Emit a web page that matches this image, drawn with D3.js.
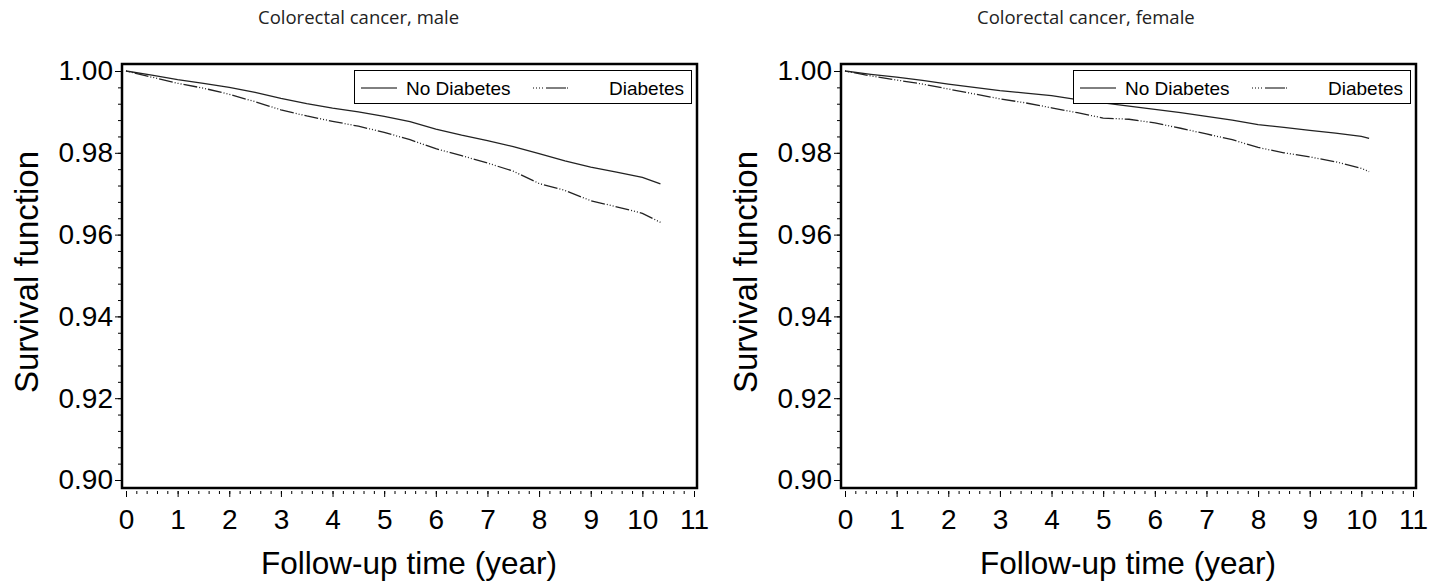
<!DOCTYPE html>
<html lang="en">
<head>
    <meta charset="utf-8">
    <title>Colorectal cancer survival</title>
    <script src="https://d3js.org/d3.v7.min.js" charset="utf-8"></script>
    <style type="text/css">
        body { margin: 0; background: #fff; }
        .title { font-family: 'Open Sans', sans-serif; font-size: 18.5px; fill: #222; }
        .tick text { font-family: 'Liberation Sans', Arial, sans-serif; font-size: 28px; fill: #000; }
        .axislabel { font-family: 'Liberation Sans', Arial, sans-serif; font-size: 31.5px; fill: #000; }
        .ylabel { font-size: 33px; }
        .legend text { font-family: 'Liberation Sans', Arial, sans-serif; font-size: 19px; fill: #000; }
    </style>
</head>
<body>
    <script type="text/javascript">

        // follow-up time in years
        var timesMale = [0, 0.5, 1, 1.5, 2, 2.5, 3, 3.5, 4, 4.5, 5, 5.5, 6, 6.5, 7, 7.5, 8, 8.5, 9, 9.5, 10, 10.35];
        var maleNoDiabetes = [1.0, 0.9990, 0.9979, 0.9970, 0.9960, 0.9948, 0.9933, 0.9920, 0.9909, 0.9900, 0.9889, 0.9876,
            0.9858, 0.9843, 0.9830, 0.9815, 0.9798, 0.9780, 0.9765, 0.9753, 0.9740, 0.9724];
        var maleDiabetes = [1.0, 0.9985, 0.9970, 0.9958, 0.9943, 0.9925, 0.9905, 0.9890, 0.9877, 0.9865, 0.9850, 0.9832,
            0.9810, 0.9793, 0.9775, 0.9755, 0.9725, 0.9708, 0.9683, 0.9668, 0.9652, 0.9630];

        var timesFemale = [0, 0.5, 1, 1.5, 2, 2.5, 3, 3.5, 4, 4.5, 5, 5.5, 6, 6.5, 7, 7.5, 8, 8.5, 9, 9.5, 10, 10.15];
        var femaleNoDiabetes = [1.0, 0.9992, 0.9985, 0.9977, 0.9968, 0.9960, 0.9952, 0.9946, 0.9940, 0.9930, 0.9922, 0.9914,
            0.9906, 0.9898, 0.9889, 0.9880, 0.9869, 0.9862, 0.9855, 0.9848, 0.9840, 0.9835];
        var femaleDiabetes = [1.0, 0.9988, 0.9978, 0.9968, 0.9956, 0.9944, 0.9932, 0.9922, 0.9910, 0.9898, 0.9885, 0.9882,
            0.9873, 0.9860, 0.9846, 0.9832, 0.9813, 0.9800, 0.9790, 0.9778, 0.9762, 0.9754];

        var xTicks = d3.range(0, 12);
        var yTicks = [0.90, 0.92, 0.94, 0.96, 0.98, 1.00];
        var legendLabels = ["No Diabetes", "Diabetes"];

        var width = 1441, height = 588;
        var svg = d3.select("body").append("svg")
            .attr("width", width)
            .attr("height", height);

        function drawPanel(offset, title, times, noDia, dia) {
            var g = svg.append("g")
                .attr("transform", "translate(" + offset + ",0)");

            var x = d3.scaleLinear().domain([0, 11]).range([126, 694]);
            var y = d3.scaleLinear().domain([0.90, 1.00]).range([480, 71]);

            g.append("text")
                .attr("class", "title")
                .attr("x", 258)
                .attr("y", 24)
                .text(title);

            // minor ticks first, majors drawn over them
            g.append("g")
                .attr("transform", "translate(0,491)")
                .call(d3.axisBottom(x).tickValues(d3.range(0, 11.01, 0.2)).tickSize(3).tickFormat(""))
                .call(function (a) { a.select(".domain").remove(); });
            g.append("g")
                .attr("transform", "translate(0,491)")
                .call(d3.axisBottom(x).tickValues(xTicks).tickSize(6).tickPadding(12).tickFormat(d3.format("d")))
                .call(function (a) { a.select(".domain").remove(); });

            g.append("g")
                .attr("transform", "translate(121,0)")
                .call(d3.axisLeft(y).tickValues(d3.range(0.90, 1.0001, 0.004)).tickSize(3).tickFormat(""))
                .call(function (a) { a.select(".domain").remove(); });
            g.append("g")
                .attr("transform", "translate(121,0)")
                .call(d3.axisLeft(y).tickValues(yTicks).tickSize(6).tickPadding(2).tickFormat(d3.format(".2f")))
                .call(function (a) { a.select(".domain").remove(); });

            var line = d3.line()
                .x(function (d) { return x(d[0]); })
                .y(function (d) { return y(d[1]); });

            g.append("path")
                .datum(times.map(function (t, i) { return [t, noDia[i]]; }))
                .attr("d", line)
                .attr("fill", "none")
                .attr("stroke", "#222")
                .attr("stroke-width", 1.3);

            g.append("path")
                .datum(times.map(function (t, i) { return [t, dia[i]]; }))
                .attr("d", line)
                .attr("fill", "none")
                .attr("stroke", "#222")
                .attr("stroke-width", 1.3)
                .attr("stroke-dasharray", "1,2,1,2,1,2,14,2");

            // frame
            g.append("rect")
                .attr("x", 122)
                .attr("y", 64)
                .attr("width", 575)
                .attr("height", 424)
                .attr("fill", "none")
                .attr("stroke", "#000")
                .attr("stroke-width", 2.5);

            // legend
            var lg = g.append("g").attr("class", "legend");
            lg.append("rect")
                .attr("x", 354.5).attr("y", 70.5)
                .attr("width", 337).attr("height", 33)
                .attr("fill", "#fff")
                .attr("stroke", "#000")
                .attr("stroke-width", 1);
            lg.append("line")
                .attr("x1", 361).attr("x2", 397).attr("y1", 88).attr("y2", 88)
                .attr("stroke", "#000");
            lg.append("text")
                .attr("x", 406).attr("y", 95)
                .text(legendLabels[0]);
            lg.append("line")
                .attr("x1", 533).attr("x2", 568).attr("y1", 88).attr("y2", 88)
                .attr("stroke", "#000")
                .attr("stroke-dasharray", "1,2,1,2,1,2,1,3,20");
            lg.append("text")
                .attr("x", 684).attr("y", 95)
                .attr("text-anchor", "end")
                .text(legendLabels[1]);

            g.append("text")
                .attr("class", "axislabel")
                .attr("x", 409)
                .attr("y", 574)
                .attr("text-anchor", "middle")
                .text("Follow-up time (year)");

            g.append("text")
                .attr("class", "axislabel ylabel")
                .attr("transform", "translate(38,272) rotate(-90)")
                .attr("text-anchor", "middle")
                .text("Survival function");
        }

        drawPanel(0, "Colorectal cancer, male", timesMale, maleNoDiabetes, maleDiabetes);
        drawPanel(719, "Colorectal cancer, female", timesFemale, femaleNoDiabetes, femaleDiabetes);

    </script>
</body>
</html>
